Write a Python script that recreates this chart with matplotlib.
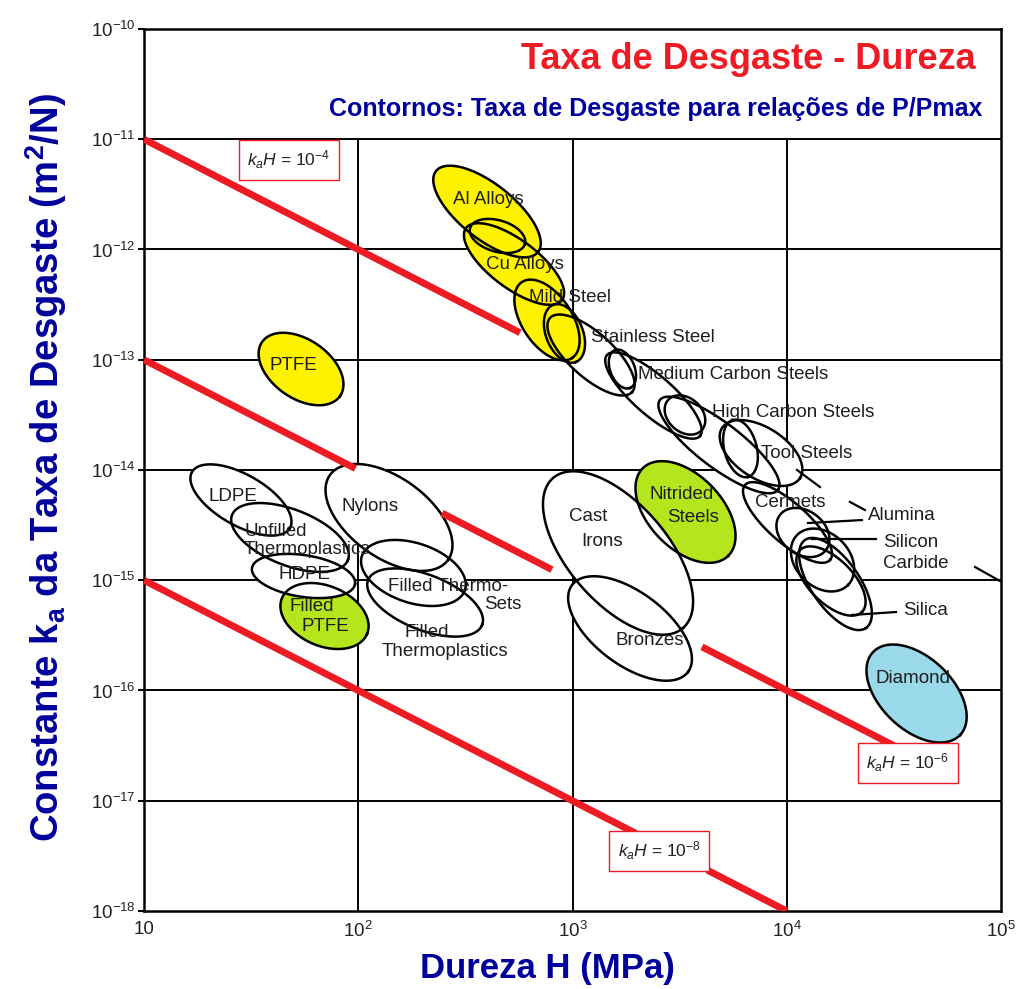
import numpy as np
import matplotlib
matplotlib.use('Agg')
import matplotlib.pyplot as plt
from matplotlib.ticker import FixedLocator, NullLocator

plt.rcParams['font.family'] = ['Liberation Sans', 'DejaVu Sans']
plt.rcParams['mathtext.fontset'] = 'custom'
plt.rcParams['mathtext.rm'] = 'Liberation Sans'
plt.rcParams['mathtext.it'] = 'Liberation Sans:italic'
plt.rcParams['mathtext.bf'] = 'Liberation Sans:bold'

RED = '#ED1C24'
NAVY = '#00009C'

# lines of constant k_a*H (H in Pa), drawn over the hardness ranges listed
kh_values = [1e-4, 1e-6, 1e-8]
kh_segments = [
    [(10, 569)],
    [(10, 97), (246, 802), (4020, 32700)],
    [(10, 1977), (4250, 1e4)],
]
kh_label_h = [47.5, 36800, 2535]
kh_label_k = [6.5e-12, 2.2e-17, 3.5e-18]
kh_label_exp = [-4, -6, -8]

# material fields: ends of the long axis (log10 H, log10 k_a) and width ratio
blob_names = ['LDPE', 'Unfilled Thermoplastics', 'Nylons', 'Filled Thermo-Sets',
              'Filled Thermoplastics', 'Filled PTFE', 'HDPE', 'PTFE',
              'Stainless Steel', 'Medium Carbon Steels', 'Medium Carbon Steels (2)',
              'High Carbon Steels', 'High Carbon Steels (2)', 'Tool Steels', 'Tool Steels (2)',
              'Cermets', 'Alumina', 'Silicon Carbide', 'Silicon Carbide (2)', 'Silica',
              'Al Alloys', 'Cu Alloys', 'Cu Alloys (2)', 'Mild Steel', 'Mild Steel (2)',
              'Nitrided Steels', 'Cast Irons', 'Bronzes', 'Diamond']
blob_h1 = [1.224, 1.411, 1.868, 2.017, 2.046, 1.644, 1.504, 1.551,
           2.895, 3.161, 3.198, 3.408, 3.446, 3.698, 3.749,
           3.805, 3.968, 4.048, 4.062, 4.085,
           2.363, 2.503, 2.522, 2.764, 2.909,
           3.329, 2.909, 2.998, 4.403]
blob_k1 = [-14.018, -14.408, -14.045, -14.780, -14.998, -15.161, -14.889, -12.839,
           -12.621, -12.957, -12.912, -13.365, -13.365, -13.619, -13.546,
           -14.136, -14.408, -14.590, -14.726, -14.635,
           -11.288, -11.805, -11.805, -12.295, -12.503,
           -13.982, -14.073, -15.043, -15.651]
blob_h2 = [1.681, 1.952, 2.419, 2.498, 2.578, 2.041, 1.985, 1.915,
           3.278, 3.595, 3.268, 3.959, 3.604, 4.062, 3.819,
           4.202, 4.183, 4.286, 4.351, 4.370,
           2.839, 2.951, 2.778, 2.998, 3.016,
           3.726, 3.516, 3.539, 4.809]
blob_k2 = [-14.526, -14.816, -14.816, -15.088, -15.406, -15.488, -15.034, -13.329,
           -13.293, -13.692, -13.256, -14.181, -13.637, -14.073, -14.063,
           -14.816, -14.726, -15.043, -15.288, -15.433,
           -12.023, -12.458, -11.950, -12.984, -13.020,
           -14.780, -15.433, -15.832, -16.404]
blob_ratio = [0.45, 0.45, 0.55, 0.55, 0.45, 0.65, 0.4, 0.62,
              0.4, 0.32, 0.6, 0.3, 0.75, 0.55, 0.55,
              0.35, 0.75, 0.75, 0.5, 0.45,
              0.42, 0.4, 0.55, 0.55, 0.6,
              0.6, 0.5, 0.5, 0.6]
highlight = {'PTFE': '#FFF200', 'Al Alloys': '#FFF200', 'Cu Alloys': '#FFF200',
             'Cu Alloys (2)': '#FFF200', 'Mild Steel': '#FFF200', 'Mild Steel (2)': '#FFF200',
             'Filled PTFE': '#B5E61D', 'Nitrided Steels': '#B5E61D', 'Diamond': '#99D9EA'}

# short pointer strokes (log10 H, log10 k_a)
pointers = [(4.099, -14.481, 4.351, -14.454), (4.118, -14.626, 4.417, -14.626),
            (4.305, -15.315, 4.510, -15.288), (4.295, -14.290, 4.365, -14.363),
            (4.879, -14.880, 4.995, -15.007), (4.048, -14.000, 4.155, -14.154)]

# field labels (text, log10 H, log10 k_a, alignment)
labels = [('Al Alloys', 2.606, -11.551, 'center'), ('Cu Alloys', 2.778, -12.132, 'center'),
          ('Mild Steel', 2.988, -12.431, 'center'), ('Stainless Steel', 3.376, -12.794, 'center'),
          ('Medium Carbon Steels', 3.749, -13.138, 'center'),
          ('High Carbon Steels', 4.029, -13.474, 'center'), ('Tool Steels', 4.095, -13.846, 'center'),
          ('Cermets', 4.015, -14.299, 'center'), ('Alumina', 4.379, -14.417, 'left'),
          ('Silicon', 4.449, -14.654, 'left'), ('Carbide', 4.449, -14.844, 'left'),
          ('Silica', 4.543, -15.270, 'left'), ('Nitrided', 3.511, -14.218, 'center'),
          ('Steels', 3.562, -14.435, 'center'), ('Cast', 3.072, -14.426, 'center'),
          ('Irons', 3.138, -14.644, 'center'), ('Bronzes', 3.362, -15.542, 'center'),
          ('Diamond', 4.589, -15.887, 'center'), ('PTFE', 1.695, -13.048, 'center'),
          ('LDPE', 1.415, -14.236, 'center'), ('Nylons', 2.055, -14.327, 'center'),
          ('Unfilled', 1.467, -14.562, 'left'), ('Thermoplastics', 1.467, -14.717, 'left'),
          ('HDPE', 1.751, -14.952, 'center'), ('Filled', 1.784, -15.234, 'center'),
          ('PTFE', 1.845, -15.415, 'center'), ('Filled Thermo-', 2.419, -15.061, 'center'),
          ('Sets', 2.676, -15.224, 'center'), ('Filled', 2.321, -15.478, 'center'),
          ('Thermoplastics', 2.405, -15.642, 'center')]

x_ticks = [10, 1e2, 1e3, 1e4, 1e5]
x_ticklabels = ['10', r'$10^{2}$', r'$10^{3}$', r'$10^{4}$', r'$10^{5}$']
y_exps = [-18, -17, -16, -15, -14, -13, -12, -11, -10]

fig = plt.figure(figsize=(10.22, 9.89), dpi=100)
ax = fig.add_axes([144/1022, 1 - 911/989, 857/1022, 882/989])
ax.set_xscale('log')
ax.set_yscale('log')
ax.set_xlim(10, 1e5)
ax.set_ylim(1e-18, 1e-10)

ax.xaxis.set_major_locator(FixedLocator(x_ticks))
ax.xaxis.set_minor_locator(NullLocator())
ax.set_xticklabels(x_ticklabels)
ax.yaxis.set_major_locator(FixedLocator([10.0**e for e in y_exps]))
ax.yaxis.set_minor_locator(NullLocator())
ax.set_yticklabels([r'$10^{%d}$' % e for e in y_exps])
ax.tick_params(axis='x', length=0, pad=7, labelsize=13.5, labelcolor='#222222')
ax.tick_params(axis='y', length=4, width=1.5, direction='out', pad=2, labelsize=13.5,
               labelcolor='#222222')
for s in ax.spines.values():
    s.set_linewidth(1.8)

# grid: horizontal at each decade, vertical only below the title band
ax.hlines([10.0**e for e in y_exps[1:-1]], 10, 1e5, color='k', lw=1.4, zorder=1)
ax.vlines(x_ticks[1:-1], 1e-18, 1e-11, color='k', lw=1.4, zorder=1)


def ellipse_pts(lh1, lk1, lh2, lk2, ratio, n=240):
    p = ax.transData.transform([[10**lh1, 10**lk1], [10**lh2, 10**lk2]])
    c = p.mean(axis=0)
    d = (p[1] - p[0]) / 2
    a = np.hypot(d[0], d[1])
    u = d / a
    v = np.array([-u[1], u[0]])
    t = np.linspace(0, 2 * np.pi, n)
    pts = c + np.outer(a * np.cos(t), u) + np.outer(ratio * a * np.sin(t), v)
    out = ax.transData.inverted().transform(pts)
    return out[:, 0], out[:, 1]


outlines = []
for i, name in enumerate(blob_names):
    x, y = ellipse_pts(blob_h1[i], blob_k1[i], blob_h2[i], blob_k2[i], blob_ratio[i])
    ax.fill(x, y, color=highlight.get(name, 'white'), lw=0, zorder=2)
    outlines.append((x, y))
for x, y in outlines:
    ax.plot(x, y, color='k', lw=1.8, zorder=3)

for h0, k0, h1, k1 in pointers:
    ax.plot([10**h0, 10**h1], [10**k0, 10**k1], color='k', lw=1.6, zorder=3)

for txt, lh, lk, ha in labels:
    ax.text(10**lh, 10**lk, txt, ha=ha, va='center', fontsize=13.5,
            color='#1e1e1e', zorder=5)

# k_a = kH / H, H given in MPa
for kh, segs in zip(kh_values, kh_segments):
    for h0, h1 in segs:
        hh = np.array([h0, h1])
        ax.plot(hh, kh / (hh * 1e6), color=RED, lw=5, solid_capstyle='butt', zorder=4)

for h, k, e in zip(kh_label_h, kh_label_k, kh_label_exp):
    ax.text(h, k, r'$\mathit{k_aH}$ = 10$^{%d}$' % e, ha='center', va='center',
            fontsize=12.5, color='#222222', zorder=6,
            bbox=dict(boxstyle='square,pad=0.5', fc='white', ec=RED, lw=1))

ax.text(0.970, 0.965, 'Taxa de Desgaste - Dureza', transform=ax.transAxes,
        ha='right', va='center', fontsize=26, fontweight='bold', color=RED)
ax.text(0.978, 0.909, 'Contornos: Taxa de Desgaste para relações de P/Pmax',
        transform=ax.transAxes, ha='right', va='center', fontsize=18,
        fontweight='bold', color=NAVY)

ax.set_xlabel('Dureza H (MPa)', fontsize=25, fontweight='bold', color=NAVY)
ax.xaxis.set_label_coords(0.471, -0.046)
ax.set_ylabel(r'Constante k$_\mathbf{a}$ da Taxa de Desgaste (m$^\mathbf{2}$/N)',
              fontsize=27.5, fontweight='bold', color=NAVY)
ax.yaxis.set_label_coords(-0.088, 0.503)

fig.savefig('out.png', dpi=100)
